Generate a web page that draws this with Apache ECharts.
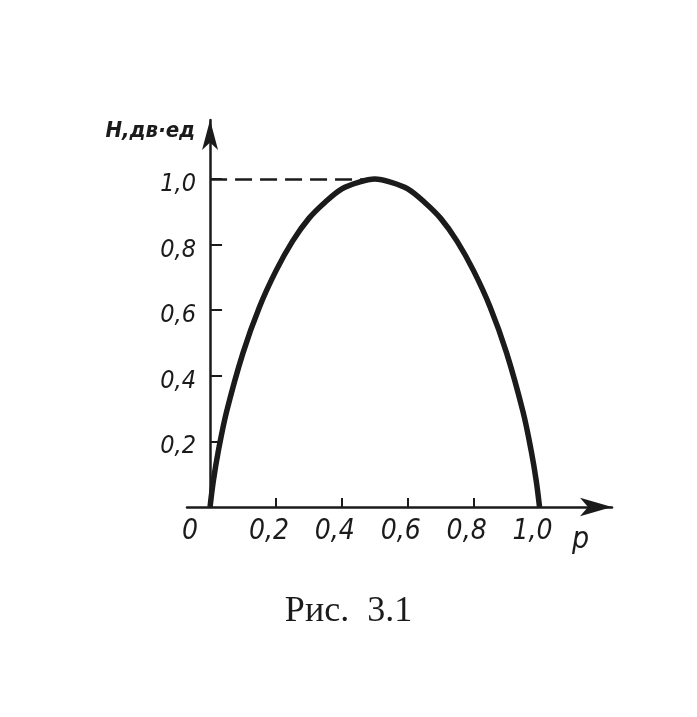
<!DOCTYPE html>
<html>
<head>
<meta charset="utf-8">
<script src="https://cdn.jsdelivr.net/npm/echarts@6/dist/echarts.min.js"></script>
<style>
  html, body { margin: 0; padding: 0; background: #fff; }
  #chart { width: 697px; height: 717px; }
</style>
</head>
<body>
<div id="chart"></div>
<script>
// p values and H
var pValues = [0, 0.01, 0.025, 0.05, 0.1, 0.15, 0.2, 0.25, 0.3, 0.35, 0.4, 0.45, 0.5,
               0.55, 0.6, 0.65, 0.7, 0.75, 0.8, 0.85, 0.9, 0.95, 0.975, 0.99, 1.0];
var hValues = [0, 0.08, 0.17, 0.29, 0.47, 0.61, 0.72, 0.81, 0.88, 0.93, 0.97, 0.99, 1.0,
               0.99, 0.97, 0.93, 0.88, 0.81, 0.72, 0.61, 0.47, 0.29, 0.17, 0.08, 0];
var xTicks = [0.2, 0.4, 0.6, 0.8, 1.0];
var xLabels = [0, 0.2, 0.4, 0.6, 0.8, 1.0];
var yTicks = [0.2, 0.4, 0.6, 0.8, 1.0];

var ink = '#1b1b1b';
var handFont = '"Liberation Sans Narrow", "DejaVu Sans Condensed", "DejaVu Sans", sans-serif';

function fmt(v) {
  if (v === 0) return '0';
  return v.toFixed(1).replace('.', ',');
}

var chart = echarts.init(document.getElementById('chart'));
chart.setOption({
  animation: false,
  backgroundColor: '#fff',
  title: {
    text: 'Рис.  3.1',
    left: 'center',
    top: 589,
    textStyle: { fontFamily: '"Liberation Serif", "DejaVu Serif", serif', fontWeight: 'normal', fontSize: 36, color: ink }
  },
  grid: { left: 187, right: 85, top: 120, bottom: 210 },
  xAxis: {
    type: 'value',
    min: -0.07,
    max: 1.22,
    name: 'p',
    nameLocation: 'end',
    nameGap: -40,
    nameTextStyle: { fontFamily: handFont, fontStyle: 'italic', fontSize: 30, color: ink, verticalAlign: 'top', padding: [18, 0, 0, 0] },
    splitLine: { show: false },
    axisLine: { lineStyle: { color: ink, width: 2.5 }, symbol: ['none', 'arrow'], symbolSize: [14, 32] },
    axisTick: { inside: true, length: 9, lineStyle: { color: ink, width: 2 }, customValues: xTicks },
    axisLabel: {
      customValues: xLabels,
      formatter: function (v) { return v === 0 ? '{z|0}' : '{n|' + fmt(v) + '}'; },
      margin: 11,
      rich: {
        z: { fontFamily: handFont, fontStyle: 'italic', fontSize: 28, color: ink, padding: [0, 40, 0, 0] },
        n: { fontFamily: handFont, fontStyle: 'italic', fontSize: 28, color: ink, padding: [0, 14, 0, 0] }
      }
    }
  },
  yAxis: {
    type: 'value',
    min: 0,
    max: 1.18,
    name: 'H,дв·ед',
    nameLocation: 'end',
    nameGap: -22,
    nameTextStyle: { fontFamily: handFont, fontStyle: 'italic', fontWeight: 'bold', fontSize: 22, color: ink, align: 'right', padding: [0, 15, 0, 0] },
    splitLine: { show: false },
    axisLine: { onZero: true, lineStyle: { color: ink, width: 2.5 }, symbol: ['none', 'arrow'], symbolSize: [12, 30] },
    axisTick: { inside: true, length: 12, lineStyle: { color: ink, width: 2 }, customValues: yTicks },
    axisLabel: {
      customValues: yTicks,
      formatter: function (v) { return '{y|' + fmt(v) + '}'; },
      margin: -9,
      rich: {
        y: { fontFamily: handFont, fontStyle: 'italic', fontSize: 25, color: ink, padding: [11, 0, 0, 0] }
      }
    }
  },
  series: [{
    type: 'line',
    data: pValues.map(function (p, i) { return [p, hValues[i]]; }),
    smooth: 0.35,
    showSymbol: false,
    lineStyle: { color: ink, width: 5.5 },
    markLine: {
      silent: true,
      symbol: 'none',
      label: { show: false },
      lineStyle: { color: ink, width: 2.5, type: [17, 8] },
      data: [[{ coord: [0, 1] }, { coord: [0.5, 1] }]]
    }
  }]
});
</script>
</body>
</html>
